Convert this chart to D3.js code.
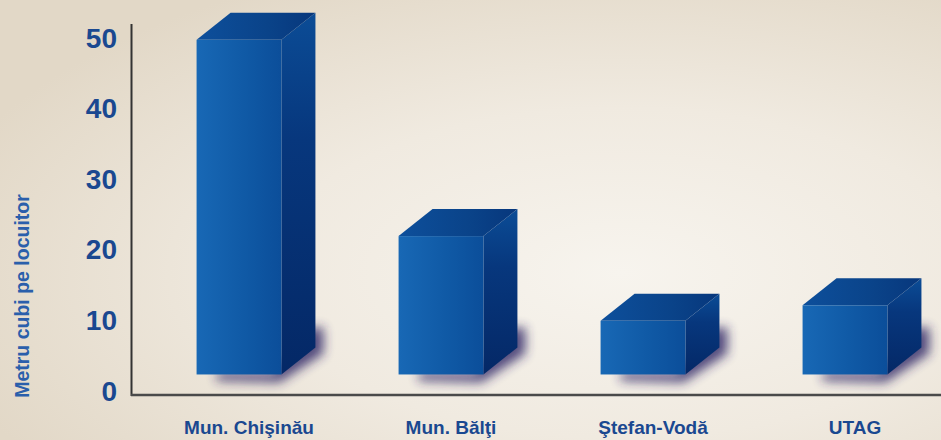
<!DOCTYPE html>
<html><head><meta charset="utf-8">
<script src="https://cdn.jsdelivr.net/npm/d3@7"></script>
<style>html,body{margin:0;padding:0;background:#ece5d8}svg{display:block}</style>
</head><body>
<script>
const categories = ["Mun. Chişinău", "Mun. Bălţi", "Ştefan-Vodă", "UTAG"];
const values = [49.6, 21.8, 9.8, 12.0];
const yTicks = [0, 10, 20, 30, 40, 50];
const yTitle = "Metru cubi pe locuitor";
const baseValue = 2.2;

const W = 941, H = 440;
const svg = d3.select("body").append("svg").attr("width", W).attr("height", H);
const defs = svg.append("defs");

const bg = defs.append("radialGradient").attr("id", "bg").attr("cx", "66%").attr("cy", "62%").attr("r", "75%");
bg.append("stop").attr("offset", "0").attr("stop-color", "#f7f4ee");
bg.append("stop").attr("offset", "0.5").attr("stop-color", "#f0eae0");
bg.append("stop").attr("offset", "1").attr("stop-color", "#e2d8c7");

function lin(id, x2, y2, stops) {
  const g = defs.append("linearGradient").attr("id", id).attr("x1", 0).attr("y1", 0).attr("x2", x2).attr("y2", y2);
  stops.forEach(([o, c]) => g.append("stop").attr("offset", o).attr("stop-color", c));
}
lin("front", 1, 0, [[0, "#1868b5"], [0.55, "#105aa6"], [1, "#0b4e9a"]]);
lin("top", 1, 0, [[0, "#0d4f9b"], [0.6, "#0a4389"], [1, "#07377c"]]);
lin("side", 0, 1, [[0, "#0b4c96"], [0.35, "#07377d"], [1, "#042866"]]);

const blur = defs.append("filter").attr("id", "blur").attr("x", "-50%").attr("y", "-50%").attr("width", "200%").attr("height", "200%");
blur.append("feGaussianBlur").attr("stdDeviation", 5.5);

svg.append("rect").attr("width", W).attr("height", H).attr("fill", "url(#bg)");

const y = d3.scaleLinear().domain([0, 50]).range([390, 37]);
const x = d3.scaleBand().domain(categories).range([138, 946]).paddingInner(0.58).paddingOuter(0.29);

const dx = 34, dy = 27;

// y tick labels
const yAxis = d3.axisLeft(y).tickValues(yTicks).tickSize(0).tickPadding(0).tickFormat(d3.format("d"));
const ga = svg.append("g").attr("transform", "translate(117,0)").call(yAxis);
ga.select(".domain").remove();
ga.selectAll("text").attr("font-family", "'Liberation Sans', Arial, sans-serif").attr("font-weight", "bold")
  .attr("font-size", 28).attr("fill", "#1a4890").attr("dy", "0.36em");

// axis title
svg.append("text").attr("transform", "translate(29,296) rotate(-90)").attr("text-anchor", "middle")
  .attr("font-family", "'Liberation Sans', Arial, sans-serif").attr("font-weight", "bold").attr("font-size", 19.5)
  .attr("fill", "#2a5fab").text(yTitle);

// axis lines
svg.append("line").attr("x1", 131.5).attr("x2", 131.5).attr("y1", 24).attr("y2", 396).attr("stroke", "#333333").attr("stroke-width", 2);
svg.append("line").attr("x1", 131).attr("x2", W).attr("y1", 395).attr("y2", 395).attr("stroke", "#4a4a4a").attr("stroke-width", 2.5);

// bars
const bars = svg.append("g").selectAll("g").data(categories).join("g");
bars.each(function (c, i) {
  const g = d3.select(this);
  const x0 = x(c), x1 = x(c) + x.bandwidth();
  const yt = y(values[i]), yb = y(baseValue);
  const pts = a => a.map(p => p.join(",")).join(" ");
  // shadow
  g.append("polygon").attr("points", pts([
    [x0 + 20, yb + 6], [x1 - 2, yb + 8], [x1 + dx + 8, yb - dy + 6], [x1 + dx + 8, yb - dy - 20], [x1 + dx - 4, yb - dy - 20], [x1 - 8, yb - 2], [x0 + 20, yb - 2]
  ])).attr("fill", "#2a2363").attr("opacity", 0.8).attr("filter", "url(#blur)");
  g.append("polygon").attr("points", pts([[x1, yt], [x1 + dx, yt - dy], [x1 + dx, yb - dy], [x1, yb]])).attr("fill", "url(#side)");
  g.append("polygon").attr("points", pts([[x0, yt], [x0 + dx, yt - dy], [x1 + dx, yt - dy], [x1, yt]])).attr("fill", "url(#top)");
  g.append("rect").attr("x", x0).attr("y", yt).attr("width", x1 - x0).attr("height", yb - yt).attr("fill", "url(#front)");
});

// category labels
svg.append("g").selectAll("text").data(categories).join("text")
  .attr("x", d => x(d) + x.bandwidth() / 2 + 10).attr("y", 434).attr("text-anchor", "middle")
  .attr("font-family", "'Liberation Sans', Arial, sans-serif").attr("font-weight", "bold").attr("font-size", 19)
  .attr("fill", "#1a4890").text(d => d);
</script>
</body></html>
